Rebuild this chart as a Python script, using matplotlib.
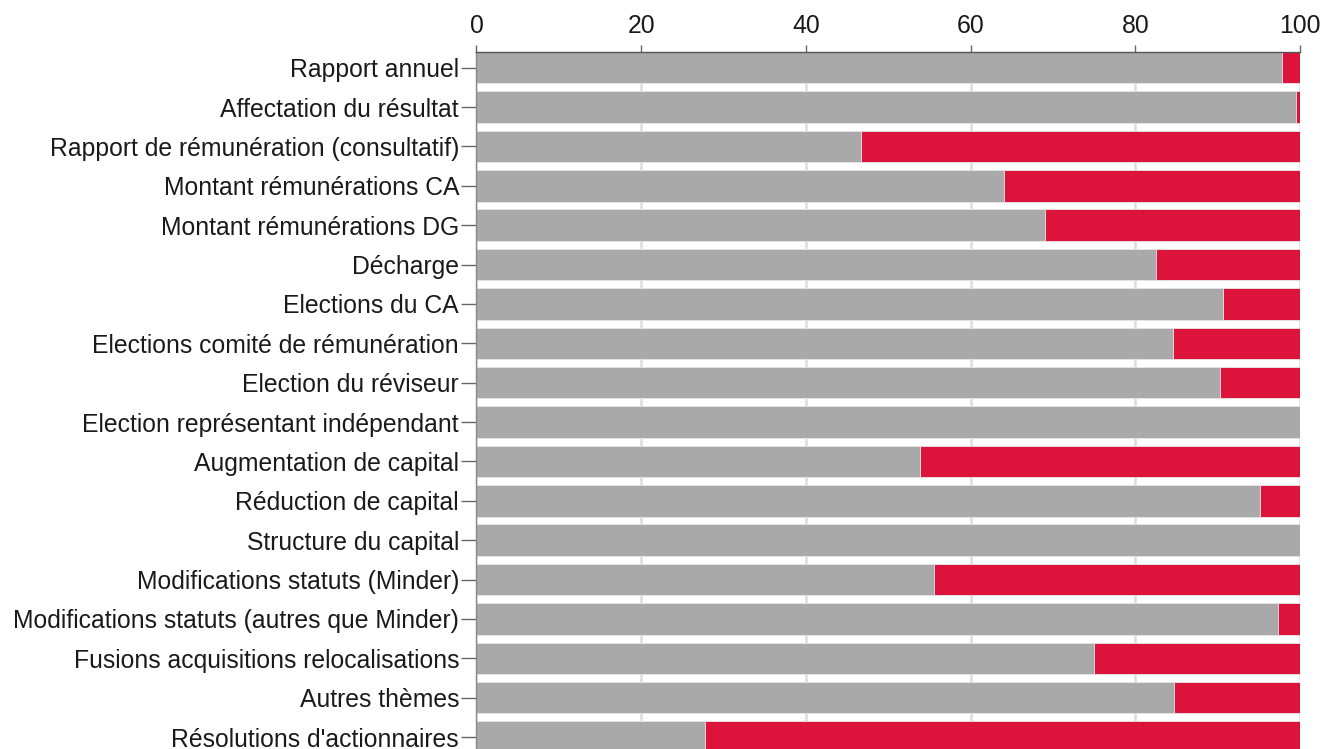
import matplotlib
matplotlib.use("Agg")
import matplotlib.pyplot as plt
import numpy as np

plt.rcParams["font.family"] = ["Liberation Sans", "DejaVu Sans"]

# categories, top to bottom
categories = [
    "Rapport annuel",
    "Affectation du résultat",
    "Rapport de rémunération (consultatif)",
    "Montant rémunérations CA",
    "Montant rémunérations DG",
    "Décharge",
    "Elections du CA",
    "Elections comité de rémunération",
    "Election du réviseur",
    "Election représentant indépendant",
    "Augmentation de capital",
    "Réduction de capital",
    "Structure du capital",
    "Modifications statuts (Minder)",
    "Modifications statuts (autres que Minder)",
    "Fusions acquisitions relocalisations",
    "Autres thèmes",
    "Résolutions d'actionnaires",
]

# share approving (grey) in percent, the rest is red
approve = [97.8, 99.5, 46.7, 64.1, 69.0, 82.5, 90.7, 84.6, 90.3, 100.0,
           53.9, 95.1, 100.0, 55.6, 97.3, 75.0, 84.7, 27.8]
reject = [100 - v for v in approve]

xticks = [0, 20, 40, 60, 80, 100]

GREY = "#a9a9a9"
RED = "#dc143c"

fig = plt.figure(figsize=(13.22, 7.49), dpi=100)
# axes runs past the bottom edge, the last row is cut like in the source
ax = fig.add_axes([0.3604, -0.0103, 0.6230, 0.9409])

y = np.arange(len(categories))
ax.barh(y, approve, height=0.8, color=GREY, edgecolor="#e6e6e6",
        linewidth=0.6, zorder=2)
ax.barh(y, reject, left=approve, height=0.8, color=RED, edgecolor="#e6e6e6",
        linewidth=0.6, zorder=2)

ax.set_xlim(0, 100)
ax.set_ylim(17.5, -0.4)
ax.set_xticks(xticks)
ax.set_yticks(y)
ax.set_yticklabels(categories)

ax.xaxis.tick_top()
ax.grid(axis="x", color="#dddddd", linewidth=1.8, zorder=0)
ax.set_axisbelow(True)

ax.tick_params(axis="x", direction="out", length=5, width=1, color="#666666",
               labelsize=17.8, pad=5, labelcolor="#1a1a1a")
ax.tick_params(axis="y", direction="out", length=11, width=1, color="#666666",
               labelsize=17.8, pad=1.5, labelcolor="#1a1a1a")

for side in ["right", "bottom"]:
    ax.spines[side].set_visible(False)
ax.spines["top"].set_color("#555555")
ax.spines["top"].set_linewidth(1.0)
ax.spines["left"].set_color("#888888")
ax.spines["left"].set_linewidth(1.0)

fig.savefig("out.png", dpi=100)
